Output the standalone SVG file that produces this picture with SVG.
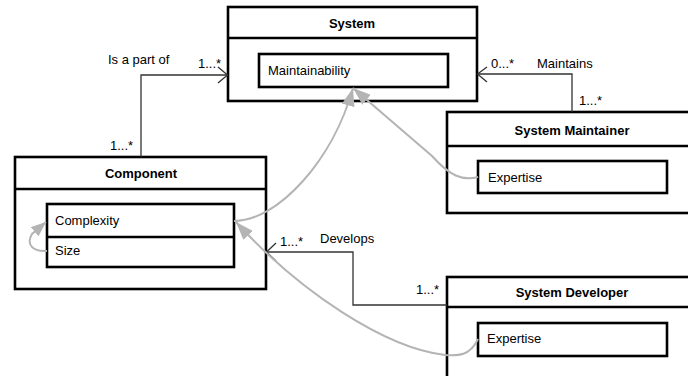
<svg xmlns="http://www.w3.org/2000/svg" width="688" height="376" viewBox="0 0 688 376">
<style>
.box{fill:#fff;stroke:#000;stroke-width:2.6}
.sep{stroke:#000;stroke-width:2.6;fill:none}
.t{font-family:"Liberation Sans",Arial,sans-serif;font-size:13px;fill:#000}
.b{font-weight:bold;text-anchor:middle}
.assoc{fill:none;stroke:#333;stroke-width:1.3}
.dep{fill:none;stroke:#b4b4b4;stroke-width:2}
</style>
<defs>
<marker id="tri" markerUnits="userSpaceOnUse" markerWidth="19" markerHeight="13" refX="18" refY="6.5" orient="auto">
<path d="M0,0 L18,6.5 L0,13 z" fill="#b4b4b4"/>
</marker>
<marker id="tri2" markerUnits="userSpaceOnUse" markerWidth="16" markerHeight="12" refX="15" refY="6" orient="auto">
<path d="M0,0 L15,6 L0,12 z" fill="#b4b4b4"/>
</marker>
</defs>
<g id="system">
<rect class="box" x="228" y="7" width="249" height="94"/>
<line class="sep" x1="228" y1="38" x2="477" y2="38"/>
<text class="t b" x="352" y="28">System</text>
<rect class="box" x="259" y="54" width="189" height="33"/>
<text class="t" x="268" y="75">Maintainability</text>
</g>
<g id="system-maintainer">
<rect class="box" x="447" y="112" width="260" height="101"/>
<line class="sep" x1="447" y1="146" x2="707" y2="146"/>
<text class="t b" x="572" y="135">System Maintainer</text>
<rect class="box" x="478" y="161" width="189" height="32"/>
<text class="t" x="488" y="182">Expertise</text>
</g>
<g id="component">
<rect class="box" x="15" y="157" width="251" height="132"/>
<line class="sep" x1="15" y1="189" x2="266" y2="189"/>
<text class="t b" x="141" y="178">Component</text>
<rect class="box" x="47" y="204" width="187" height="63"/>
<line class="sep" x1="47" y1="237" x2="234" y2="237"/>
<text class="t" x="55" y="225">Complexity</text>
<text class="t" x="55" y="255">Size</text>
</g>
<g id="system-developer">
<rect class="box" x="447" y="277" width="260" height="120"/>
<line class="sep" x1="447" y1="307" x2="707" y2="307"/>
<text class="t b" x="572" y="297">System Developer</text>
<rect class="box" x="478" y="323" width="189" height="33"/>
<text class="t" x="487" y="343">Expertise</text>
</g>
<g id="connectors">
<path class="assoc" d="M141,157 V75 H227.5"/>
<path class="assoc" d="M218,67 L227.5,75 L218,83"/>
<text class="t" x="108" y="64">Is a part of</text>
<text class="t" x="198" y="68">1...*</text>
<text class="t" x="110" y="150">1...*</text>
<path class="assoc" d="M572,112 V74 H477.5"/>
<path class="assoc" d="M487,67 L477.5,74 L487,82"/>
<text class="t" x="491" y="68">0...*</text>
<text class="t" x="537" y="68">Maintains</text>
<text class="t" x="579" y="105">1...*</text>
<path class="assoc" d="M447,305 H353 V252 H266.5"/>
<path class="assoc" d="M276,243 L266.5,252 L276,261"/>
<text class="t" x="280" y="246">1...*</text>
<text class="t" x="320" y="243">Develops</text>
<text class="t" x="416" y="294">1...*</text>
<path class="dep" d="M234,221 C278,221 333,160 353,88" marker-end="url(#tri)"/>
<path class="dep" d="M478,177 C462,181 450,176 432,156 L353,88" marker-end="url(#tri)"/>
<path class="dep" d="M478,339 C470,356 458,356 445,355 C385,348 300,292 236,222" marker-end="url(#tri)"/>
<path class="dep" d="M47,251 C32,252 26,244 32,234 L46,222" marker-end="url(#tri2)"/>
</g>
</svg>
